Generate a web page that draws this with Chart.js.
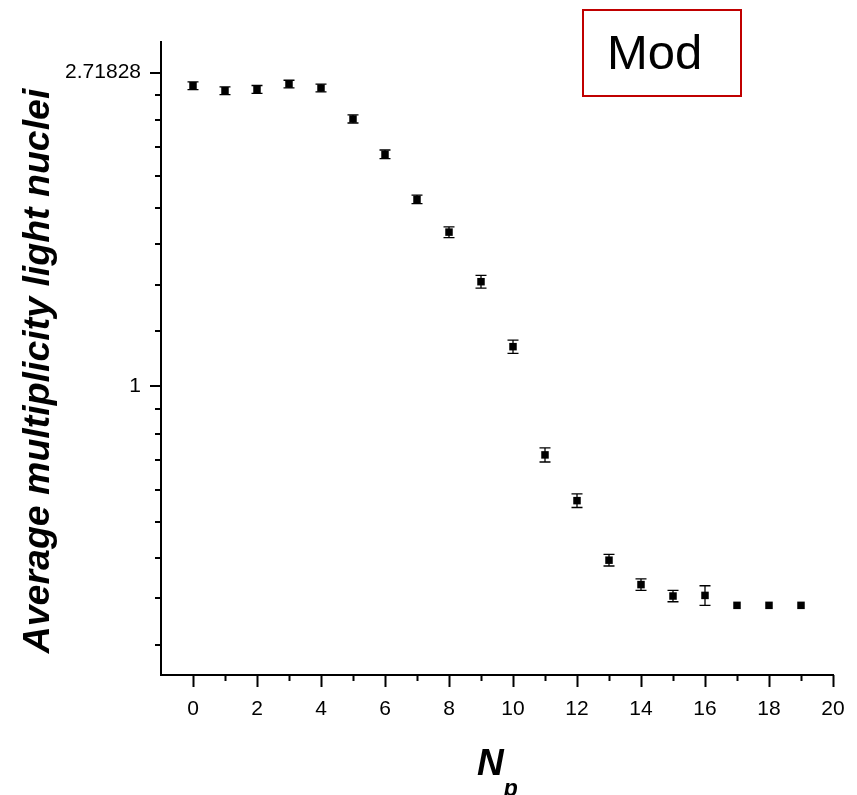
<!DOCTYPE html>
<html>
<head>
<meta charset="utf-8">
<script src="https://cdn.jsdelivr.net/npm/chart.js@4"></script>
<style>
  body { margin: 0; background: #fff; }
  #wrap { position: relative; width: 857px; height: 795px; }
  #modBox {
    position: absolute; left: 582px; top: 9px; width: 156px; height: 84px;
    border: 2px solid #c00000; box-sizing: content-box;
    font-family: "Liberation Sans", Arial, sans-serif; font-size: 49px; color: #000;
  }
  #modBox span { position: absolute; left: 23px; top: 17px; line-height: 1; }
</style>
</head>
<body>
<div id="wrap">
  <canvas id="chart" width="857" height="795"></canvas>
  <div id="modBox"><span>Mod</span></div>
</div>
<script>
// Data
const np = [0, 1, 2, 3, 4, 5, 6, 7, 8, 9, 10, 11, 12, 13, 14, 15, 16, 17, 18, 19];
const multiplicity = [2.606, 2.565, 2.576, 2.620, 2.587, 2.344, 2.094, 1.814, 1.634, 1.395,
                      1.134, 0.803, 0.694, 0.574, 0.531, 0.512, 0.513, 0.497, 0.497, 0.497];
const multErr = [0.032, 0.032, 0.032, 0.032, 0.032, 0.030, 0.029, 0.025, 0.028, 0.028,
                 0.024, 0.018, 0.015, 0.0106, 0.0096, 0.0093, 0.016, 0, 0, 0];

const xTicks = [0, 1, 2, 3, 4, 5, 6, 7, 8, 9, 10, 11, 12, 13, 14, 15, 16, 17, 18, 19, 20];
const yMajorTicks = [Math.E, 1];
const yMajorLabels = ['2.71828', '1'];

// minor ticks: 8 evenly spaced values between e and 1, and between 1 and 1/e
const yMinorTicks = [];
for (let k = 1; k < 9; k++) {
    yMinorTicks.push(Math.E - k * (Math.E - 1) / 9);
    yMinorTicks.push(1 - k * (1 - 1 / Math.E) / 9);
}

const FONT = '"Liberation Sans", Arial, sans-serif';

function yLabel(v) {
    const i = yMajorTicks.findIndex(t => Math.abs(t - v) < 1e-9);
    return i >= 0 ? yMajorLabels[i] : '';
}

// error bars, tick marks and axis titles
const extras = {
    id: 'extras',
    beforeDatasetsDraw(chart) {
        const { ctx, scales: { x, y } } = chart;
        ctx.save();
        ctx.strokeStyle = '#000';
        ctx.lineWidth = 1.3;
        multiplicity.forEach((v, i) => {
            const e = multErr[i];
            if (!e) return;
            const px = x.getPixelForValue(np[i]);
            const top = y.getPixelForValue(v + e);
            const bot = y.getPixelForValue(v - e);
            ctx.beginPath();
            ctx.moveTo(px, top); ctx.lineTo(px, bot);
            ctx.moveTo(px - 5.5, top); ctx.lineTo(px + 5.5, top);
            ctx.moveTo(px - 5.5, bot); ctx.lineTo(px + 5.5, bot);
            ctx.stroke();
        });
        ctx.restore();
    },
    afterDraw(chart) {
        const { ctx, chartArea, scales: { x, y } } = chart;
        ctx.save();
        ctx.strokeStyle = '#000';
        ctx.lineWidth = 2;
        ctx.beginPath();
        x.ticks.forEach(t => {
            const px = Math.round(x.getPixelForValue(t.value)) + 0.5;
            const len = t.value % 2 === 0 ? 12 : 6;
            ctx.moveTo(px, chartArea.bottom);
            ctx.lineTo(px, chartArea.bottom + len);
        });
        y.ticks.forEach(t => {
            const py = Math.round(y.getPixelForValue(t.value));
            const len = yLabel(t.value) ? 11 : 6;
            ctx.moveTo(chartArea.left, py);
            ctx.lineTo(chartArea.left - len, py);
        });
        ctx.stroke();

        // y title
        ctx.fillStyle = '#000';
        ctx.save();
        ctx.translate(39, 371);
        ctx.rotate(-Math.PI / 2);
        ctx.font = 'italic bold 37.5px ' + FONT;
        ctx.textAlign = 'center';
        ctx.textBaseline = 'middle';
        ctx.fillText('Average multiplicity light nuclei', 0, 0);
        ctx.restore();

        // x title N_p
        ctx.textAlign = 'left';
        ctx.textBaseline = 'alphabetic';
        ctx.font = 'italic bold 37px ' + FONT;
        ctx.fillText('N', 477, 775);
        const w = ctx.measureText('N').width;
        ctx.font = 'italic bold 23px ' + FONT;
        ctx.fillText('p', 477 + w, 796);
        ctx.restore();
    }
};

new Chart(document.getElementById('chart'), {
    type: 'scatter',
    data: {
        datasets: [{
            label: 'Mod',
            data: np.map((n, i) => ({ x: n, y: multiplicity[i] })),
            pointStyle: 'rect',
            pointRadius: 5.3,
            backgroundColor: '#000',
            borderColor: '#000',
            borderWidth: 0
        }]
    },
    options: {
        responsive: false,
        animation: false,
        devicePixelRatio: 1,
        layout: { padding: { top: 42, right: 24, bottom: 0, left: 0 } },
        plugins: { legend: { display: false }, tooltip: { enabled: false } },
        scales: {
            x: {
                type: 'linear',
                min: -1,
                max: 20,
                afterFit: s => { s.height = 120; s.paddingLeft = 0; s.paddingRight = 0; },
                afterBuildTicks: s => { s.ticks = xTicks.map(v => ({ value: v })); },
                grid: { display: false, drawTicks: false },
                border: { display: true, color: '#000', width: 2 },
                ticks: {
                    autoSkip: false,
                    maxRotation: 0,
                    padding: 22,
                    color: '#000',
                    font: { family: FONT, size: 21 },
                    callback: v => (v % 2 === 0 ? String(v) : '')
                }
            },
            y: {
                type: 'logarithmic',
                min: 0.398,
                max: 2.996,
                afterFit: s => { s.width = 161; s.paddingTop = 0; s.paddingBottom = 0; },
                afterBuildTicks: s => {
                    s.ticks = yMinorTicks.concat(yMajorTicks).map(v => ({ value: v }));
                },
                grid: { display: false, drawTicks: false },
                border: { display: true, color: '#000', width: 2 },
                ticks: {
                    autoSkip: false,
                    padding: 20,
                    color: '#000',
                    font: { family: FONT, size: 21 },
                    callback: v => yLabel(v)
                }
            }
        }
    },
    plugins: [extras]
});
</script>
</body>
</html>
